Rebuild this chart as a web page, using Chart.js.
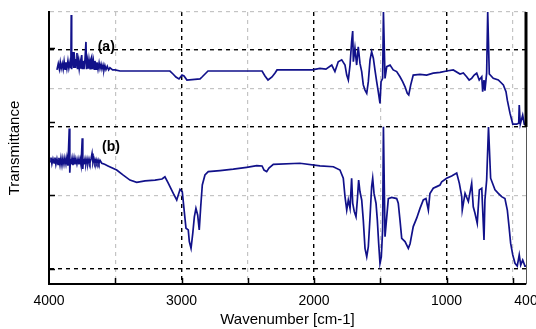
<!DOCTYPE html>
<html>
<head>
<meta charset="utf-8">
<script src="https://cdn.jsdelivr.net/npm/chart.js@4.4.0/dist/chart.umd.min.js"></script>
<style>
  body { margin: 0; background: #fff; }
  canvas { display: block; }
</style>
</head>
<body>
<canvas id="chart" width="536" height="329"></canvas>
<script>
// spectrum (a), upper trace: wavenumber [cm-1] and transmittance (a.u., 0-100)
const waveA = [3940, 3930, 3922, 3915, 3908, 3900, 3893, 3886, 3879, 3872, 3865, 3857, 3850, 3842,
  3835, 3832, 3829, 3824, 3817, 3813, 3806, 3800, 3796, 3789, 3785, 3778, 3772, 3766, 3760, 3753,
  3748, 3743, 3736, 3729, 3721, 3717, 3710, 3704, 3698, 3690, 3685, 3678, 3672, 3665, 3658, 3653,
  3645, 3638, 3630, 3622, 3615, 3607, 3600, 3592, 3585, 3578, 3570, 3560, 3550, 3540, 3520, 3502,
  3464, 3087, 3064, 3042, 3019, 2996, 2981, 2959, 2860, 2845, 2800, 2392, 2370, 2347, 2317, 2294,
  2279, 2015, 1955, 1910, 1866, 1842, 1817, 1791, 1766, 1753, 1741, 1728, 1716, 1708, 1703, 1691,
  1678, 1666, 1653, 1640, 1628, 1615, 1602, 1590, 1577, 1565, 1552, 1540, 1527, 1515, 1502, 1494,
  1482, 1476, 1464, 1451, 1426, 1402, 1376, 1351, 1331, 1313, 1296, 1285, 1270, 1251, 1200, 1150,
  1100, 1049, 999, 949, 898, 873, 848, 829, 810, 791, 772, 753, 734, 727, 717, 710, 697, 689, 677,
  647, 609, 571, 551, 541, 521, 500, 470, 455, 451, 443, 425, 413, 400];
const transA = [78.7, 81.0, 79.0, 81.5, 79.2, 81.0, 79.0, 81.8, 79.0, 81.5, 79.2, 82.0, 79.4, 81.5,
  79.4, 98.9, 79.0, 82.0, 85.3, 79.4, 82.5, 79.4, 82.4, 84.9, 79.0, 82.0, 79.2, 81.6, 79.2, 84.2,
  79.0, 82.0, 79.0, 82.0, 89.0, 79.0, 82.0, 79.2, 82.4, 79.2, 82.5, 83.5, 79.0, 82.0, 79.0, 82.0,
  79.0, 81.5, 79.0, 81.3, 79.2, 80.8, 79.0, 80.5, 78.7, 80.3, 78.8, 80.0, 78.7, 79.5, 78.7, 78.7,
  78.3, 78.3, 77.2, 76.1, 75.4, 76.8, 76.5, 75.0, 75.4, 76.1, 78.3, 78.3, 76.5, 75.0, 76.1, 77.6,
  78.7, 78.7, 79.3, 79.0, 80.5, 78.1, 81.7, 82.4, 80.5, 76.8, 75.0, 80.5, 89.1, 93.0, 81.7, 86.7,
  80.5, 87.2, 81.1, 78.1, 73.2, 71.3, 70.1, 74.4, 82.4, 85.4, 83.0, 78.7, 74.4, 70.7, 66.4, 74.4,
  75.6, 100, 75.6, 79.9, 80.5, 78.7, 78.1, 76.2, 74.4, 72.5, 70.1, 69.5, 73.2, 76.8, 77.1, 76.8,
  77.5, 77.8, 78.3, 78.7, 77.2, 77.6, 76.2, 75.0, 75.6, 76.8, 77.5, 75.0, 76.2, 70.7, 75.0, 71.1, 77.5, 100, 77.2,
  75.6, 75.0, 73.2, 70.7, 67.6, 62.8, 58.8, 58.8, 59.1, 65.8, 58.8, 62.1, 58.8, 58.8];

// spectrum (b), lower trace
const waveB = [3992, 3985, 3978, 3970, 3962, 3955, 3948, 3940, 3932, 3925, 3917, 3910, 3902, 3895,
  3887, 3880, 3872, 3865, 3857, 3847, 3843, 3838, 3834, 3826, 3819, 3811, 3804, 3797, 3789, 3781,
  3774, 3766, 3758, 3749, 3745, 3740, 3736, 3728, 3721, 3713, 3706, 3698, 3691, 3683, 3675, 3668,
  3660, 3653, 3645, 3638, 3630, 3623, 3615, 3602, 3580, 3555, 3489,
  3442, 3389, 3338, 3275, 3200, 3147, 3125, 3100, 3062, 3036, 3011, 2994, 2979, 2966, 2949, 2941,
  2928, 2915, 2903, 2891, 2878, 2866, 2855, 2843, 2823, 2798, 2709, 2609, 2508, 2432, 2392, 2377,
  2357, 2340, 2307, 2106, 1955, 1854, 1804, 1779, 1766, 1753, 1741, 1728, 1716, 1708, 1696, 1683,
  1673, 1663, 1653, 1640, 1628, 1615, 1602, 1590, 1577, 1565, 1557, 1547, 1532, 1522, 1512, 1502,
  1492, 1482, 1476, 1464, 1451, 1439, 1414, 1376, 1364, 1351, 1338, 1313, 1288, 1275, 1251, 1225,
  1200, 1175, 1155, 1137, 1125, 1100, 1074, 1049, 1036, 999, 961, 923, 903, 885, 881, 860, 835, 810,
  798, 785, 768, 752, 734, 717, 710, 697, 683, 667, 634, 609, 584, 559, 541, 528, 516, 500, 483,
  466, 451, 440, 425, 408, 400];
const transB = [45.0, 46.5, 44.2, 46.0, 44.5, 46.5, 44.0, 46.0, 44.0, 46.4, 43.8, 46.3, 43.7, 46.2,
  44.0, 46.3, 44.1, 46.5, 43.5, 57.2, 40.9, 46.0, 44.0, 46.3, 43.7, 46.3, 44.0, 46.0, 44.1, 46.0,
  44.0, 46.0, 43.7, 53.6, 42.3, 46.0, 44.0, 46.0, 44.1, 46.0, 44.2, 46.0, 44.5, 46.0, 48.0, 44.5,
  46.0, 44.5, 45.8, 44.5, 45.6, 44.3, 45.5, 44.4, 44.0, 43.4, 41.9,
  40.1, 38.2, 37.4, 37.9, 38.2, 38.6, 39.4, 37.1, 33.3, 30.9, 34.8, 33.9, 26.6, 20.5, 19.9, 15.6,
  13.1, 18.6, 24.7, 27.8, 25.4, 19.9, 28.4, 36.4, 40.1, 41.3, 41.7, 42.2, 42.9, 43.5, 43.4, 41.9,
  41.3, 42.6, 44.0, 44.4, 43.4, 43.1, 41.9, 38.9, 32.1, 27.2, 30.9, 27.8, 38.9, 29.7, 26.6, 24.7,
  30.9, 38.2, 33.9, 30.9, 23.5, 13.1, 10.0, 13.7, 24.7, 35.8, 38.9, 33.3, 29.7, 23.5, 15.0, 7.6,
  10.0, 19.9, 57.8, 17.4, 24.7, 31.4, 31.8, 31.4, 29.7, 23.5, 16.8, 15.6, 13.1, 14.8, 21.1, 24.2,
  27.8, 30.9, 31.4, 27.2, 33.3, 35.2, 35.8, 36.4, 37.6, 38.9, 39.7, 40.8, 37.0, 32.1, 27.2, 33.3, 30.3, 37.0,
  28.4, 26.0, 22.3, 34.6, 35.2, 16.2, 30.9, 38.2, 57.7, 38.9, 34.6, 33.3, 32.1, 31.4, 27.2, 21.1, 15.0, 10.7, 7.6,
  6.6, 10.7, 7.0, 8.8, 6.6, 6.6];

// axis ticks and reference lines
const xTicks = [4000, 3500, 3000, 2500, 2000, 1500, 1000, 500, 400];
const xLabels = [4000, 3000, 2000, 1000, 400];
const xMajorLines = [3000, 2000, 1000];
const yBlackLines = [5.8, 57.7, 86];
const yGrayLines = [32.5, 71.8, 100];
const yTickMarks = [5.6, 32.6, 59.6, 86.6];
const traceLabels = [
  { text: '(a)', x: 3568, y: 86.9 },
  { text: '(b)', x: 3532, y: 50.4 }
];

const toPoints = (xs, ys) => xs.map((x, i) => ({ x: x, y: ys[i] }));
const lineColor = '#11118a';
const font = "'Liberation Sans', Arial, sans-serif";

const frame = {
  id: 'frame',
  afterDatasetsDraw(chart) {
    const { ctx, chartArea: a, scales } = chart;
    ctx.save();
    ctx.strokeStyle = '#000';
    ctx.lineWidth = 1.5;
    ctx.beginPath();
    xTicks.slice(1, -1).forEach(v => {
      const px = Math.round(scales.x.getPixelForValue(v)) + 0.5;
      ctx.moveTo(px, a.bottom);
      ctx.lineTo(px, a.bottom - 6);
    });
    yTickMarks.forEach(v => {
      const py = Math.round(scales.y.getPixelForValue(v)) + 0.5;
      ctx.moveTo(a.left, py);
      ctx.lineTo(a.left + 6, py);
    });
    ctx.stroke();

    // right edge
    ctx.strokeStyle = '#555';
    ctx.lineWidth = 1;
    ctx.beginPath();
    ctx.moveTo(a.right + 0.5, a.top);
    ctx.lineTo(a.right + 0.5, a.bottom);
    ctx.stroke();
    ctx.strokeStyle = '#000';
    ctx.lineWidth = 3;
    ctx.beginPath();
    ctx.moveTo(a.right, a.top);
    ctx.lineTo(a.right, scales.y.getPixelForValue(57.7));
    ctx.stroke();

    ctx.fillStyle = '#000';
    ctx.font = 'bold 14px ' + font;
    ctx.textAlign = 'center';
    ctx.textBaseline = 'middle';
    traceLabels.forEach(l => {
      ctx.fillText(l.text, scales.x.getPixelForValue(l.x), scales.y.getPixelForValue(l.y));
    });
    ctx.restore();
  }
};

new Chart(document.getElementById('chart'), {
  type: 'line',
  data: {
    datasets: [
      { label: '(a)', data: toPoints(waveA, transA) },
      { label: '(b)', data: toPoints(waveB, transB) }
    ]
  },
  options: {
    responsive: false,
    animation: false,
    layout: { padding: { top: 12, right: 10, left: 0, bottom: 0 } },
    elements: {
      line: { borderColor: lineColor, borderWidth: 1.7, tension: 0 },
      point: { radius: 0 }
    },
    plugins: { legend: { display: false }, tooltip: { enabled: false } },
    scales: {
      x: {
        type: 'linear',
        reverse: true,
        min: 400,
        max: 4000,
        afterBuildTicks: s => { s.ticks = xTicks.map(v => ({ value: v })); },
        afterFit: s => { s.height = 45; s.paddingLeft = 0; s.paddingRight = 0; },
        ticks: {
          autoSkip: false,
          maxRotation: 0,
          padding: 9,
          color: '#000',
          font: { family: font, size: 14 },
          callback: v => xLabels.includes(v) ? String(v) : ''
        },
        grid: {
          drawTicks: false,
          color: c => {
            const v = c.tick && c.tick.value;
            if (xMajorLines.includes(v)) return '#000';
            if (v === 3500 || v === 2500 || v === 1500 || v === 500) return '#c4c4c4';
            return 'rgba(0,0,0,0)';
          },
          lineWidth: c => (c.tick && xMajorLines.includes(c.tick.value)) ? 1.4 : 1.2
        },
        border: { color: '#000', width: 2, dash: c => c.tick ? [4, 4] : [] },
        title: {
          display: true,
          text: 'Wavenumber [cm-1]',
          color: '#000',
          padding: { top: 0, bottom: 0 },
          font: { family: font, size: 15 }
        }
      },
      y: {
        type: 'linear',
        min: 0,
        max: 100,
        afterBuildTicks: s => {
          s.ticks = yBlackLines.concat(yGrayLines).sort((p, q) => p - q).map(v => ({ value: v }));
        },
        afterFit: s => { s.width = 49; s.paddingTop = 0; s.paddingBottom = 0; },
        ticks: { display: false },
        grid: {
          drawTicks: false,
          color: c => {
            const v = c.tick && c.tick.value;
            if (yBlackLines.includes(v)) return '#000';
            return '#c4c4c4';
          },
          lineWidth: c => (c.tick && yBlackLines.includes(c.tick.value)) ? 1.4 : 1.2
        },
        border: { color: '#000', width: 2, dash: c => c.tick ? [4, 4] : [] },
        title: {
          display: true,
          text: 'Transmittance',
          color: '#000',
          padding: { top: 6, bottom: 0 },
          font: { family: font, size: 15 }
        }
      }
    }
  },
  plugins: [frame]
});
</script>
</body>
</html>
